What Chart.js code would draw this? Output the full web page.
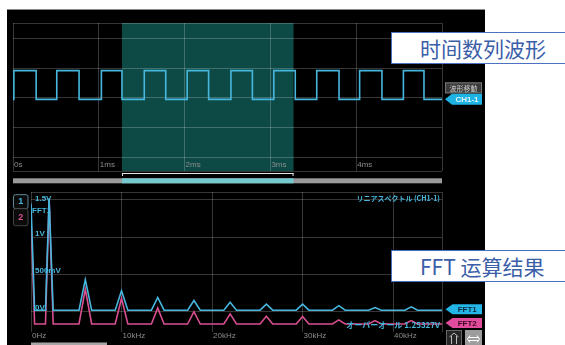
<!DOCTYPE html>
<html>
<head>
<meta charset="utf-8">
<script src="https://cdn.jsdelivr.net/npm/chart.js@4.4.0/dist/chart.umd.min.js"></script>
<style>
html,body{margin:0;padding:0;background:#fff;width:565px;height:345px;overflow:hidden;}
#panel{position:absolute;left:7px;top:9px;width:478px;height:336px;background:#000;border-top:1px solid #8a8a8a;box-sizing:border-box;}
canvas{position:absolute;left:0;}
#c1{top:0;}
#c2{top:186px;}
.note{position:absolute;left:391px;width:190px;height:30px;background:#fff;border:1.5px solid #4a72c0;color:#3b5ea8;
 font-family:"Noto Sans CJK SC","Noto Sans",sans-serif;font-size:21px;line-height:30px;padding-left:28px;white-space:nowrap;box-sizing:content-box;}
#n1{top:32px;}
#n2{top:250px;}
</style>
</head>
<body>
<div id="panel"></div>
<canvas id="c1" width="565" height="186"></canvas>
<canvas id="c2" width="565" height="159"></canvas>
<div class="note" id="n1">时间数列波形</div>
<div class="note" id="n2">FFT 运算结果</div>
<script>
// ---------- time-domain panel data ----------
const timeTicksMs = [0, 1, 2, 3, 4, 5];
const timeTickLabels = ['0s', '1ms', '2ms', '3ms', '4ms', ''];
const voltTicksTop = [-2.47, -2, -1, 0, 1, 2, 2.53];
const waveEdgesMs = [0.01, 0.27, 0.51, 0.77, 1.03, 1.27, 1.53, 1.78, 2.03, 2.28, 2.54, 2.79, 3.04, 3.29, 3.54, 3.80, 4.04, 4.30, 4.55, 4.79];
const waveLevelsV = [-0.05, 0.92]; // low, high
const selectionMs = [1.27, 3.27];

// ---------- FFT panel data ----------
const freqTicksKHz = [0, 10, 20, 30, 40, 45.4];
const freqTickLabels = ['0Hz', '10kHz', '20kHz', '30kHz', '40kHz', ''];
const fftVoltTicks = [0, 0.5, 1, 1.5, 1.603];
const fftVoltLabels = ['0V', '500mV', '1V', '1.5V', ''];
const fftFreqKHz = [0, 0.4, 1.6, 2.0, 2.45,
  5.3, 6.0, 6.7, 9.3, 10.0, 10.7, 13.3, 14.0, 14.7, 17.3, 18.0, 18.7, 21.3, 22.0, 22.7,
  25.3, 26.0, 26.7, 29.3, 30.0, 30.7, 33.3, 34.0, 34.7, 37.3, 38.0, 38.7, 41.3, 42.0, 42.7, 45.4];
const fft1Values = [1.45, 0.02, 0.02, 1.52, 0.02,
  0.02, 0.43, 0.02, 0.02, 0.28, 0.02, 0.02, 0.19, 0.02, 0.02, 0.15, 0.02, 0.02, 0.125, 0.02,
  0.02, 0.10, 0.02, 0.02, 0.10, 0.02, 0.02, 0.08, 0.02, 0.02, 0.055, 0.02, 0.02, 0.065, 0.02, 0.02];
const fft2Values = [1.25, -0.165, -0.165, 1.50, -0.165,
  -0.165, 0.30, -0.165, -0.165, 0.18, -0.165, -0.165, 0.05, -0.165, -0.165, 0.0, -0.165, -0.165, -0.03, -0.165,
  -0.165, -0.06, -0.165, -0.165, -0.065, -0.165, -0.165, -0.11, -0.165, -0.165, -0.12, -0.165, -0.165, -0.12, -0.165, -0.165];
const fft1Base = 0.02, fft2Base = -0.165;

const CYAN = '#47b7de', PINK = '#d94f90', GRID = 'rgba(255,255,255,0.21)';
const LFONT = '"Liberation Sans", Arial, sans-serif';
const JFONT = '"Noto Sans CJK JP", sans-serif';

// build wave polyline from read edge times
const wavePoints = [{x: 0, y: waveLevelsV[0]}];
let lvl = 0;
for (const t of waveEdgesMs) {
  wavePoints.push({x: t, y: waveLevelsV[lvl]});
  lvl = 1 - lvl;
  wavePoints.push({x: t, y: waveLevelsV[lvl]});
}
wavePoints.push({x: 5, y: waveLevelsV[lvl]});

function tag(ctx, xTip, xRight, yc, h, fill, text, textColor) {
  ctx.fillStyle = fill;
  ctx.beginPath();
  ctx.moveTo(xTip, yc);
  ctx.lineTo(xTip + 7, yc - h / 2);
  ctx.lineTo(xRight, yc - h / 2);
  ctx.lineTo(xRight, yc + h / 2);
  ctx.lineTo(xTip + 7, yc + h / 2);
  ctx.closePath();
  ctx.fill();
  ctx.fillStyle = textColor;
  ctx.font = 'bold 8px ' + LFONT;
  ctx.textAlign = 'center';
  ctx.textBaseline = 'middle';
  ctx.fillText(text, (xTip + 7 + xRight) / 2, yc + 0.5);
}

const topDeco = {
  id: 'topDeco',
  beforeDraw(chart) {
    const {ctx, chartArea: a, scales: {x}} = chart;
    const x0 = x.getPixelForValue(selectionMs[0]), x1 = x.getPixelForValue(selectionMs[1]);
    ctx.save();
    ctx.fillStyle = '#0d4a46';
    ctx.fillRect(x0, a.top, x1 - x0, a.bottom - a.top);
    ctx.restore();
  },
  afterDraw(chart) {
    const {ctx, chartArea: a, scales: {x, y}} = chart;
    ctx.save();
    ctx.font = '8px ' + LFONT;
    ctx.fillStyle = '#8c8c8c';
    ctx.textAlign = 'left';
    ctx.textBaseline = 'middle';
    timeTicksMs.forEach((v, i) => {
      if (timeTickLabels[i]) ctx.fillText(timeTickLabels[i], x.getPixelForValue(v) + 1, a.bottom - 6);
    });
    const x0 = x.getPixelForValue(selectionMs[0]), x1 = x.getPixelForValue(selectionMs[1]);
    ctx.strokeStyle = '#e6e6e6';
    ctx.lineWidth = 1;
    ctx.beginPath();
    ctx.moveTo(x0, a.bottom + 2.5); ctx.lineTo(x1, a.bottom + 2.5);
    ctx.moveTo(x0 + 0.5, a.bottom + 2); ctx.lineTo(x0 + 0.5, a.bottom + 5);
    ctx.moveTo(x1 - 0.5, a.bottom + 2); ctx.lineTo(x1 - 0.5, a.bottom + 5);
    ctx.stroke();
    ctx.fillStyle = '#9a9a9a';
    ctx.fillRect(a.left, a.bottom + 7.3, a.right - a.left, 5);
    ctx.fillStyle = '#74c9cf';
    ctx.fillRect(x0, a.bottom + 7.3, x1 - x0, 5);
    const yc = y.getPixelForValue(waveLevelsV[0]);
    ctx.fillStyle = '#3b3b3b';
    ctx.fillRect(a.right + 3, yc - 17, 37, 11);
    ctx.strokeStyle = '#777';
    ctx.strokeRect(a.right + 3.5, yc - 16.5, 36, 10);
    ctx.fillStyle = '#cfcfcf';
    ctx.font = '7px ' + JFONT;
    ctx.textAlign = 'center';
    ctx.textBaseline = 'middle';
    ctx.fillText('波形移動', a.right + 21.5, yc - 11.5);
    tag(ctx, a.right + 3, a.right + 40, yc, 11, '#1fb3e3', 'CH1-1', '#dff6ff');
    ctx.restore();
  }
};

const fftDeco = {
  id: 'fftDeco',
  afterDraw(chart) {
    const {ctx, chartArea: a, scales: {x, y}} = chart;
    ctx.save();
    ctx.font = 'bold 8px ' + LFONT;
    ctx.fillStyle = CYAN;
    ctx.textAlign = 'left';
    ctx.textBaseline = 'alphabetic';
    fftVoltTicks.forEach((v, i) => {
      if (!fftVoltLabels[i]) return;
      const py = Math.max(y.getPixelForValue(v) - 1.5, a.top + 9);
      ctx.fillText(fftVoltLabels[i], a.left + 4, py);
    });
    ctx.fillText('FFT1', a.left + 1, a.top + 21);
    ctx.font = 'bold 7px ' + JFONT;
    ctx.textAlign = 'right';
    ctx.textBaseline = 'middle';
    ctx.fillText('リニアスペクトル (CH1-1)', a.right - 2, a.top + 6.7);
    ctx.font = 'bold 8px ' + JFONT;
    ctx.fillText('オーバーオール 1.25327V', a.right - 2, y.getPixelForValue(fft2Base) + 0.5);
    ctx.font = '8px ' + LFONT;
    ctx.fillStyle = '#8c8c8c';
    ctx.textAlign = 'left';
    freqTicksKHz.forEach((v, i) => {
      if (freqTickLabels[i]) ctx.fillText(freqTickLabels[i], x.getPixelForValue(v) + 1, a.bottom + 3.5);
    });
    tag(ctx, a.right + 3.5, a.right + 40, y.getPixelForValue(fft1Base) - 1, 10, '#22b5e6', 'FFT1', '#0a2a40');
    tag(ctx, a.right + 3.5, a.right + 40, y.getPixelForValue(fft2Base) - 1, 10, '#e14c9c', 'FFT2', '#3a0a22');
    ctx.lineWidth = 1;
    ctx.fillStyle = '#0b0b0b';
    ctx.strokeStyle = '#5f8796';
    ctx.beginPath(); ctx.roundRect(13.5, a.top + 2.7, 14.5, 14, 2); ctx.fill(); ctx.stroke();
    ctx.strokeStyle = '#444';
    ctx.beginPath(); ctx.roundRect(13.5, a.top + 16.7, 14.5, 17, 2); ctx.fill(); ctx.stroke();
    ctx.font = 'bold 9px ' + LFONT;
    ctx.textAlign = 'center';
    ctx.fillStyle = CYAN;
    ctx.fillText('1', 20.8, a.top + 10);
    ctx.fillStyle = PINK;
    ctx.fillText('2', 20.8, a.top + 25.5);
    const by = a.bottom - 2;
    ctx.fillStyle = '#262626';
    ctx.fillRect(a.right + 4, by, 16, 17);
    ctx.strokeStyle = '#666';
    ctx.strokeRect(a.right + 4.5, by + 0.5, 15, 16);
    ctx.strokeStyle = '#bdbdbd';
    ctx.beginPath();
    ctx.moveTo(a.right + 9.5, by + 14); ctx.lineTo(a.right + 9.5, by + 6);
    ctx.moveTo(a.right + 14.5, by + 14); ctx.lineTo(a.right + 14.5, by + 6);
    ctx.moveTo(a.right + 7.5, by + 7); ctx.lineTo(a.right + 12, by + 3); ctx.lineTo(a.right + 16.5, by + 7);
    ctx.stroke();
    ctx.fillStyle = '#9c9c9c';
    ctx.fillRect(a.right + 23, by, 17, 17);
    ctx.strokeStyle = '#ffffff';
    ctx.beginPath();
    ctx.moveTo(a.right + 26, by + 7.5); ctx.lineTo(a.right + 37, by + 7.5);
    ctx.moveTo(a.right + 26, by + 10.5); ctx.lineTo(a.right + 37, by + 10.5);
    ctx.moveTo(a.right + 28, by + 5.5); ctx.lineTo(a.right + 25.5, by + 9); ctx.lineTo(a.right + 28, by + 12.5);
    ctx.moveTo(a.right + 35, by + 5.5); ctx.lineTo(a.right + 37.5, by + 9); ctx.lineTo(a.right + 35, by + 12.5);
    ctx.stroke();
    ctx.fillStyle = '#a6a6a6';
    ctx.fillRect(a.left, a.bottom + 10.5, 76, 4);
    ctx.restore();
  }
};

function gridScale(min, max, ticksArr) {
  return {
    type: 'linear', min: min, max: max,
    afterBuildTicks: s => { s.ticks = ticksArr.map(v => ({value: v})); },
    ticks: {display: false},
    grid: {color: GRID, lineWidth: 1, drawTicks: false},
    border: {display: false}
  };
}

new Chart(document.getElementById('c1'), {
  type: 'line',
  data: {datasets: [{data: wavePoints, borderColor: CYAN, borderWidth: 1.6, pointRadius: 0, tension: 0, fill: false}]},
  options: {
    responsive: false, animation: false, events: [],
    layout: {padding: {left: 13, top: 23, right: 123, bottom: 15}, autoPadding: false},
    plugins: {legend: {display: false}, tooltip: {enabled: false}},
    scales: {x: gridScale(0, 5, timeTicksMs), y: gridScale(-2.47, 2.53, voltTicksTop)}
  },
  plugins: [topDeco]
});

new Chart(document.getElementById('c2'), {
  type: 'line',
  data: {datasets: [
    {data: fftFreqKHz.map((f, i) => ({x: f, y: fft1Values[i]})), borderColor: CYAN, borderWidth: 1.6, pointRadius: 0, tension: 0, fill: false},
    {data: fftFreqKHz.map((f, i) => ({x: f, y: fft2Values[i]})), borderColor: PINK, borderWidth: 1.6, pointRadius: 0, tension: 0, fill: false}
  ]},
  options: {
    responsive: false, animation: false, events: [],
    layout: {padding: {left: 31, top: 6, right: 123, bottom: 13}, autoPadding: false},
    plugins: {legend: {display: false}, tooltip: {enabled: false}},
    scales: {x: gridScale(0, 45.4, freqTicksKHz), y: gridScale(-0.272, 1.603, fftVoltTicks)}
  },
  plugins: [fftDeco]
});
</script>
</body>
</html>
